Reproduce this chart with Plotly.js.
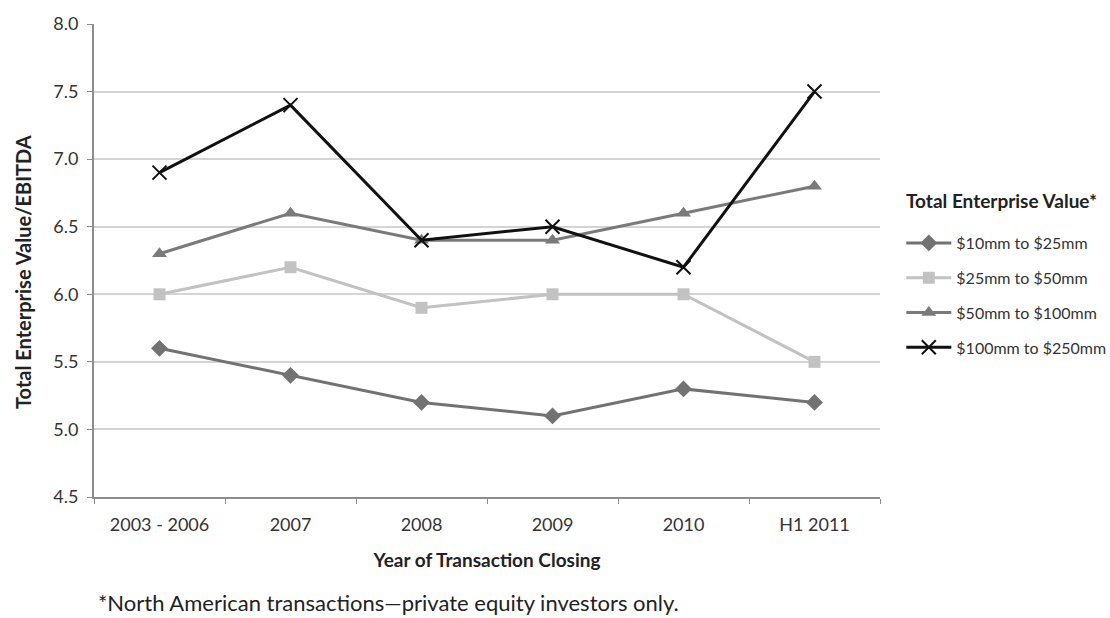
<!DOCTYPE html>
<html>
<head>
<meta charset="utf-8">
<script src="https://cdn.plot.ly/plotly-3.0.1.min.js"></script>
<style>html,body{margin:0;padding:0;background:#fff;}#chart{width:1110px;height:618px;}</style>
</head>
<body>
<div id="chart"></div>
<script>
const categories = ["2003 - 2006", "2007", "2008", "2009", "2010", "H1 2011"];
const seriesNames = ["$10mm to $25mm", "$25mm to $50mm", "$50mm to $100mm", "$100mm to $250mm"];
const tev10to25 = [5.6, 5.4, 5.2, 5.1, 5.3, 5.2];
const tev25to50 = [6.0, 6.2, 5.9, 6.0, 6.0, 5.5];
const tev50to100 = [6.3, 6.6, 6.4, 6.4, 6.6, 6.8];
const tev100to250 = [6.9, 7.4, 6.4, 6.5, 6.2, 7.5];
const yTicks = [4.5, 5.0, 5.5, 6.0, 6.5, 7.0, 7.5, 8.0];

const FONT = "Lato, 'Open Sans', sans-serif";
const styles = [
  {color: "#727272", symbol: "diamond", size: 13, mline: 0},
  {color: "#c2c2c2", symbol: "square", size: 12, mline: 0},
  {color: "#7a7a7a", symbol: "triangle-up", size: 13, mline: 0},
  {color: "#111111", symbol: "x-thin-open", size: 14, mline: 2}
];
const values = [tev10to25, tev25to50, tev50to100, tev100to250];

const traces = values.map((v, i) => ({
  type: "scatter",
  mode: "lines+markers",
  x: categories,
  y: v,
  name: seriesNames[i],
  legendgroup: "g" + i,
  line: {color: styles[i].color, width: 3},
  marker: {
    symbol: styles[i].symbol,
    size: styles[i].size,
    color: styles[i].color,
    line: {color: styles[i].color, width: styles[i].mline}
  },
  cliponaxis: false
}));

const layout = {
  width: 1110,
  height: 618,
  paper_bgcolor: "#ffffff",
  plot_bgcolor: "#ffffff",
  font: {family: FONT, color: "#333333", size: 14},
  margin: {l: 94, r: 230, t: 24, b: 121},
  showlegend: true,
  legend: {
    xref: "container", yref: "container",
    x: 0.812, xanchor: "left",
    y: 1 - 226/618, yanchor: "top",
    font: {size: 16, color: "#333"},
    itemwidth: 45,
    tracegroupgap: 11,
    bgcolor: "rgba(0,0,0,0)"
  },
  xaxis: {
    type: "category",
    range: [-0.5, 5.5],
    showgrid: false,
    showline: true,
    linecolor: "#8c8c8c",
    linewidth: 2,
    ticks: "outside",
    tickson: "boundaries",
    ticklen: 5,
    tickcolor: "#8c8c8c",
    tickwidth: 1,
    ticklabelstandoff: 10,
    tickfont: {size: 18, color: "#333"},
    title: {text: "<b>Year of Transaction Closing</b>", font: {size: 19, color: "#222"}, standoff: 20},
    fixedrange: true
  },
  yaxis: {
    range: [4.5, 8.0],
    tickvals: yTicks,
    ticktext: yTicks.map(t => t.toFixed(1)),
    showgrid: true,
    gridcolor: "#d4d4d4",
    gridwidth: 2,
    zeroline: false,
    showline: true,
    linecolor: "#8c8c8c",
    linewidth: 2,
    ticks: "outside",
    ticklen: 5,
    tickcolor: "#8c8c8c",
    ticklabelstandoff: 5,
    tickfont: {size: 18, color: "#333"},
    fixedrange: true
  },
  annotations: [{
    xref: "paper", yref: "paper",
    x: 0, xanchor: "center", xshift: -71,
    y: (497 - 272) / 473, yanchor: "middle",
    textangle: -90,
    text: "<b>Total Enterprise Value/EBITDA</b>",
    showarrow: false,
    font: {size: 20, color: "#222"}
  }, {
    xref: "paper", yref: "paper",
    x: (904 - 94) / 786, xanchor: "left",
    y: (497 - 200) / 473, yanchor: "middle",
    text: "<b>Total Enterprise Value*</b>",
    showarrow: false,
    font: {size: 19, color: "#222"}
  }, {
    xref: "paper", yref: "paper",
    x: 0, xanchor: "left", xshift: 3,
    y: 0, yanchor: "bottom", yshift: -120,
    borderpad: 0,
    text: "*North American transactions\u2014private equity investors only.",
    showarrow: false,
    font: {size: 22, color: "#222"}
  }]
};

Plotly.newPlot("chart", traces, layout, {displayModeBar: false, staticPlot: true});
</script>
</body>
</html>
